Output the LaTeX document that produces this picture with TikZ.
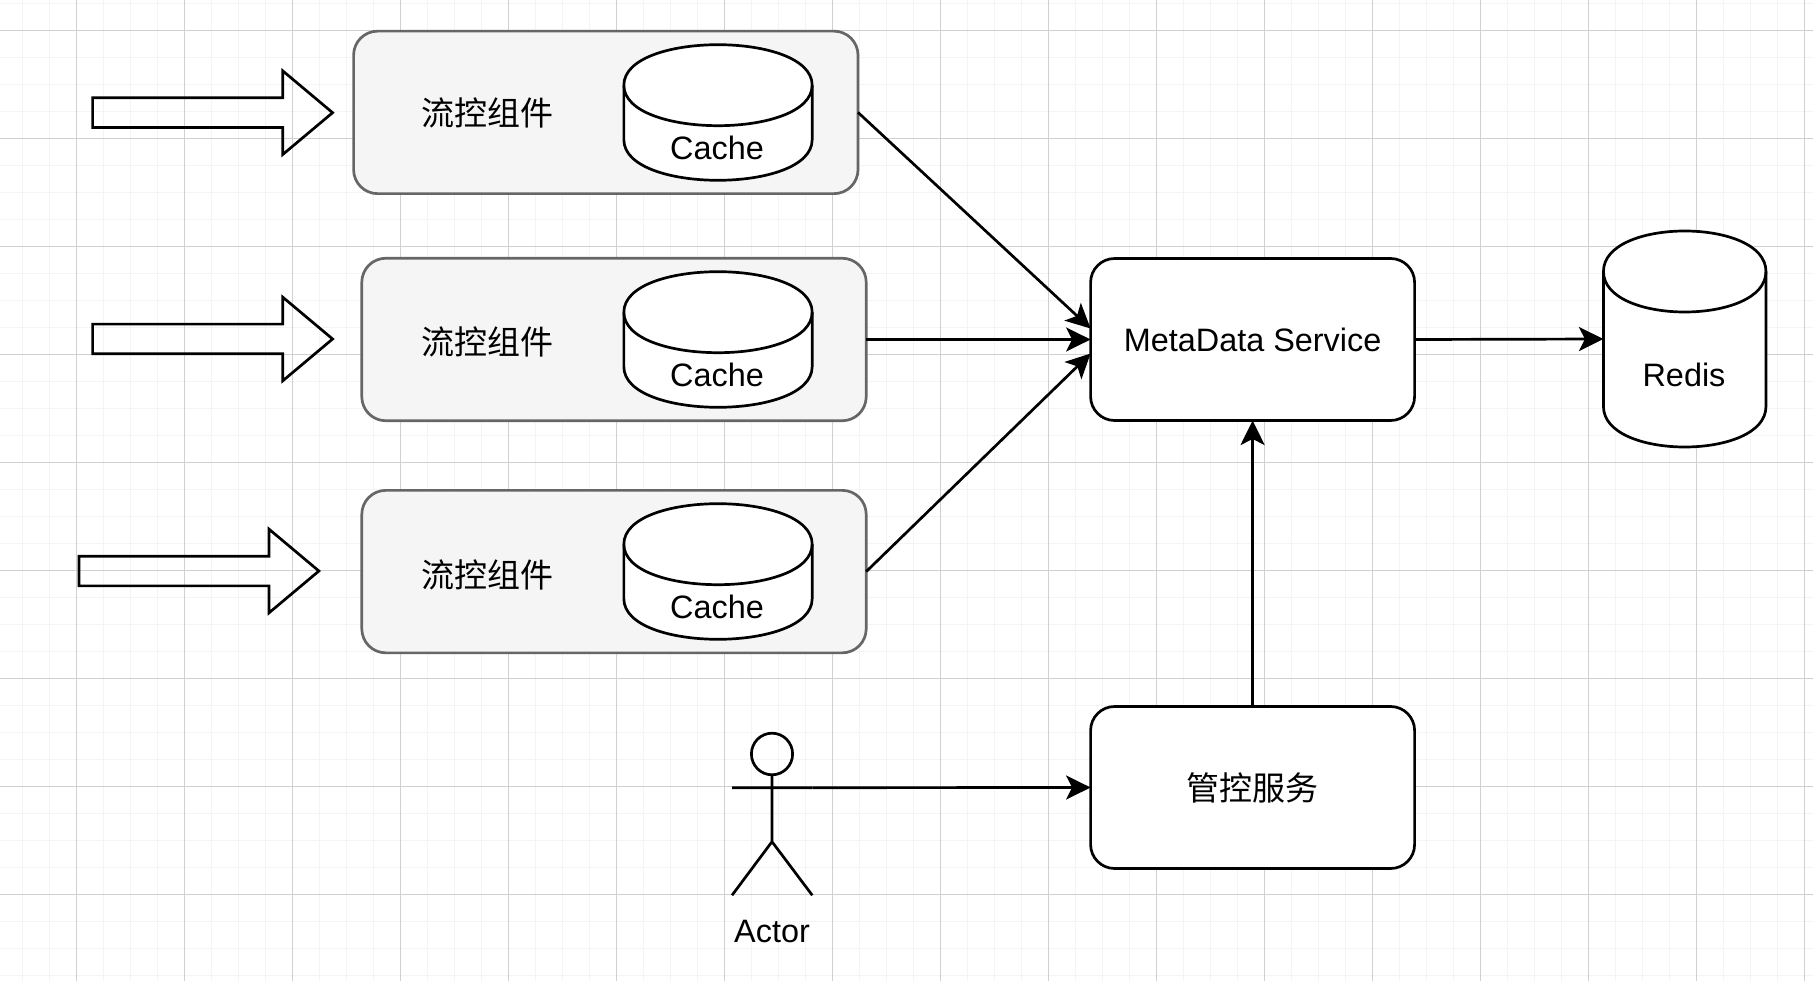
\documentclass[tikz,border=0pt]{standalone}
\usepackage{fontspec}
\setmainfont{Liberation Sans}
\newfontfamily\cjk{Noto Sans CJK SC}
\usetikzlibrary{shapes.geometric, shapes.arrows, arrows.meta}
\definecolor{gridmajor}{HTML}{D0D0D0}
\definecolor{gridminor}{HTML}{F4F4F4}
\tikzset{
  flowbox/.style={draw=black!60, fill=black!4, line width=2.7pt, rounded corners=24pt, minimum width=504.4pt, minimum height=162.5pt, inner sep=0pt, outer sep=0pt},
  svcbox/.style={draw=black, fill=white, line width=2.7pt, rounded corners=24pt, minimum width=324pt, minimum height=162pt, inner sep=0pt, outer sep=0pt},
  dbslot/.style={rectangle, inner sep=0pt, outer sep=0pt},
  inarrow/.style={single arrow, anchor=tip, draw=black, line width=2.7pt, minimum width=81pt, minimum height=240pt, single arrow head extend=27pt, single arrow tip angle=80, inner xsep=0pt, inner ysep=13.5pt, outer sep=0pt},
  lbl/.style={font=\fontsize{32.4}{38}\selectfont, inner sep=0pt},
  cjklbl/.style={font=\fontsize{33}{38}\selectfont\cjk, inner sep=0pt},
  conn/.style={draw=black, line width=2.7pt, -{Stealth[length=24.5pt, width=24pt, inset=6pt]}},
  stick/.style={draw=black, line width=2.7pt}
}
\newcommand{\dbcylinder}[5]{
\node[dbslot, minimum width=#4pt, minimum height=#5pt] (#1) at (#2,#3) {};
\begin{scope}[shift={(#1.north west)}]
\draw[stick, fill=white] (0,40.5) .. controls (0,-13.5) and (#4,-13.5) .. (#4,40.5) -- (#4,#5-40.5) .. controls (#4,#5+13.5) and (0,#5+13.5) .. (0,#5-40.5) -- cycle;
\draw[stick] (0,40.5) .. controls (0,94.5) and (#4,94.5) .. (#4,40.5);
\end{scope}
}
\begin{document}
\begin{tikzpicture}[x=1pt, y=-1pt]
\useasboundingbox (0,0) rectangle (1813,981);
\fill[white] (0,0) rectangle (1813,981);
\foreach \i in {0,...,66} \draw[gridminor, line width=1.1pt] ({22.4+27*\i},0) -- ({22.4+27*\i},981);
\foreach \i in {0,...,36} \draw[gridminor, line width=1.1pt] (0,{3.3+27*\i}) -- (1813,{3.3+27*\i});
\foreach \i in {0,...,16} \draw[gridmajor, line width=1.1pt] ({76.4+108*\i},0) -- ({76.4+108*\i},981);
\foreach \i in {0,...,8} \draw[gridmajor, line width=1.1pt] (0,{30.3+108*\i}) -- (1813,{30.3+108*\i});
\node[inarrow] (in1) at (332.6,112.7) {};
\node[inarrow] (in2) at (332.6,339) {};
\node[inarrow] (in3) at (318.9,571) {};
\node[flowbox] (flow1) at (605.8,112.4) {};
\node[flowbox] (flow2) at (614,339.5) {};
\node[flowbox] (flow3) at (614,571.6) {};
\node[cjklbl] (flowtxt1) at (487,113) {流控组件};
\node[cjklbl] (flowtxt2) at (487,342) {流控组件};
\node[cjklbl] (flowtxt3) at (487,575) {流控组件};
\dbcylinder{cache1}{718}{112.5}{188.3}{135.6}
\dbcylinder{cache2}{718}{339.5}{188.3}{135.6}
\dbcylinder{cache3}{718}{571.5}{188.3}{135.6}
\node[lbl] (cachetxt1) at (717,147.5) {Cache};
\node[lbl] (cachetxt2) at (717,374.5) {Cache};
\node[lbl] (cachetxt3) at (717,606.5) {Cache};
\node[svcbox, lbl] (meta) at (1252.6,339.5) {MetaData Service};
\node[svcbox, cjklbl] (ctl) at (1252.6,787.5) {管控服务};
\dbcylinder{redis}{1684.7}{339}{162.5}{216}
\node[lbl] (redistxt) at (1684,374.5) {Redis};
\node[stick, ellipse, minimum width=41.2pt, minimum height=41.6pt, inner sep=0pt, outer sep=0pt] (head) at (772,754) {};
\coordinate (lhand) at (732,787.7);
\coordinate (rhand) at (812.3,787.7);
\coordinate (hip) at (772,841.7);
\coordinate (lfoot) at (732,895.3);
\coordinate (rfoot) at (812.3,895.3);
\node[lbl] (actor) at (772,931.7) {Actor};
\draw[stick] (head.south) -- (hip) -- (lfoot) (hip) -- (rfoot) (lhand) -- (rhand);
\draw (flow1.east) edge[conn] ([yshift=11pt]meta.west)
(flow2.east) edge[conn] (meta.west)
(flow3.east) edge[conn] ([yshift=-14pt]meta.west)
(meta.east) edge[conn] (redis.west)
(ctl.north) edge[conn] (meta.south)
(rhand) edge[conn] (ctl.west)
;
\end{tikzpicture}
\end{document}
